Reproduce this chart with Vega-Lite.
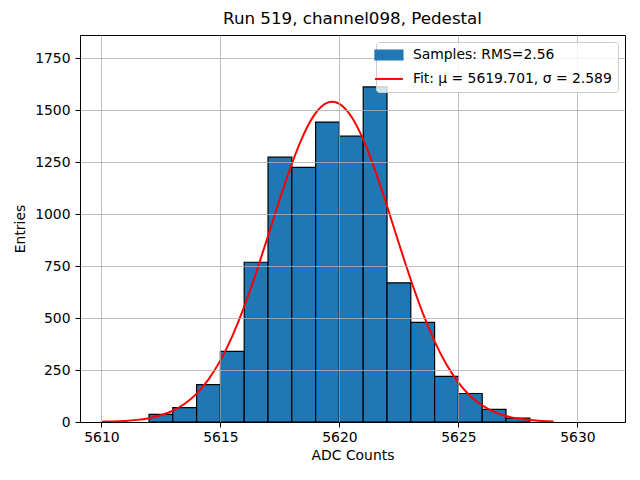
{
  "$schema": "https://vega.github.io/schema/vega-lite/v6.json",
  "autosize": {"type": "none"},
  "width": 545,
  "height": 387,
  "padding": {"left": 80, "top": 35, "right": 15, "bottom": 58},
  "title": {"text": "Run 519, channel098, Pedestal", "font": "DejaVu Sans", "fontSize": 16.7, "fontWeight": "normal", "color": "black", "offset": 7},
  "datasets": {
    "bars": [
      {"x0": 5612, "x1": 5613, "count": 37, "series": "Samples: RMS=2.56"},
      {"x0": 5613, "x1": 5614, "count": 69, "series": "Samples: RMS=2.56"},
      {"x0": 5614, "x1": 5615, "count": 180, "series": "Samples: RMS=2.56"},
      {"x0": 5615, "x1": 5616, "count": 340, "series": "Samples: RMS=2.56"},
      {"x0": 5616, "x1": 5617, "count": 768, "series": "Samples: RMS=2.56"},
      {"x0": 5617, "x1": 5618, "count": 1273, "series": "Samples: RMS=2.56"},
      {"x0": 5618, "x1": 5619, "count": 1224, "series": "Samples: RMS=2.56"},
      {"x0": 5619, "x1": 5620, "count": 1442, "series": "Samples: RMS=2.56"},
      {"x0": 5620, "x1": 5621, "count": 1374, "series": "Samples: RMS=2.56"},
      {"x0": 5621, "x1": 5622, "count": 1611, "series": "Samples: RMS=2.56"},
      {"x0": 5622, "x1": 5623, "count": 669, "series": "Samples: RMS=2.56"},
      {"x0": 5623, "x1": 5624, "count": 479, "series": "Samples: RMS=2.56"},
      {"x0": 5624, "x1": 5625, "count": 219, "series": "Samples: RMS=2.56"},
      {"x0": 5625, "x1": 5626, "count": 137, "series": "Samples: RMS=2.56"},
      {"x0": 5626, "x1": 5627, "count": 61, "series": "Samples: RMS=2.56"},
      {"x0": 5627, "x1": 5628, "count": 19, "series": "Samples: RMS=2.56"}
    ],
    "fit": [
      {"x": 5610, "y": 1.4, "series": "Fit: μ = 5619.701, σ = 2.589"},
      {"x": 5610.5, "y": 2.8, "series": "Fit: μ = 5619.701, σ = 2.589"},
      {"x": 5611, "y": 5.4, "series": "Fit: μ = 5619.701, σ = 2.589"},
      {"x": 5611.5, "y": 10.2, "series": "Fit: μ = 5619.701, σ = 2.589"},
      {"x": 5612, "y": 18.5, "series": "Fit: μ = 5619.701, σ = 2.589"},
      {"x": 5612.5, "y": 32.2, "series": "Fit: μ = 5619.701, σ = 2.589"},
      {"x": 5613, "y": 54.1, "series": "Fit: μ = 5619.701, σ = 2.589"},
      {"x": 5613.5, "y": 87.5, "series": "Fit: μ = 5619.701, σ = 2.589"},
      {"x": 5614, "y": 136.4, "series": "Fit: μ = 5619.701, σ = 2.589"},
      {"x": 5614.5, "y": 204.7, "series": "Fit: μ = 5619.701, σ = 2.589"},
      {"x": 5615, "y": 296.2, "series": "Fit: μ = 5619.701, σ = 2.589"},
      {"x": 5615.5, "y": 412.9, "series": "Fit: μ = 5619.701, σ = 2.589"},
      {"x": 5616, "y": 554.3, "series": "Fit: μ = 5619.701, σ = 2.589"},
      {"x": 5616.5, "y": 717.0, "series": "Fit: μ = 5619.701, σ = 2.589"},
      {"x": 5617, "y": 893.7, "series": "Fit: μ = 5619.701, σ = 2.589"},
      {"x": 5617.5, "y": 1073, "series": "Fit: μ = 5619.701, σ = 2.589"},
      {"x": 5618, "y": 1241, "series": "Fit: μ = 5619.701, σ = 2.589"},
      {"x": 5618.5, "y": 1383, "series": "Fit: μ = 5619.701, σ = 2.589"},
      {"x": 5619, "y": 1484.6, "series": "Fit: μ = 5619.701, σ = 2.589"},
      {"x": 5619.5, "y": 1535.4, "series": "Fit: μ = 5619.701, σ = 2.589"},
      {"x": 5620, "y": 1529.8, "series": "Fit: μ = 5619.701, σ = 2.589"},
      {"x": 5620.5, "y": 1468.4, "series": "Fit: μ = 5619.701, σ = 2.589"},
      {"x": 5621, "y": 1357.8, "series": "Fit: μ = 5619.701, σ = 2.589"},
      {"x": 5621.5, "y": 1209.7, "series": "Fit: μ = 5619.701, σ = 2.589"},
      {"x": 5622, "y": 1038.3, "series": "Fit: μ = 5619.701, σ = 2.589"},
      {"x": 5622.5, "y": 858.4, "series": "Fit: μ = 5619.701, σ = 2.589"},
      {"x": 5623, "y": 683.9, "series": "Fit: μ = 5619.701, σ = 2.589"},
      {"x": 5623.5, "y": 524.8, "series": "Fit: μ = 5619.701, σ = 2.589"},
      {"x": 5624, "y": 388, "series": "Fit: μ = 5619.701, σ = 2.589"},
      {"x": 5624.5, "y": 276.3, "series": "Fit: μ = 5619.701, σ = 2.589"},
      {"x": 5625, "y": 189.6, "series": "Fit: μ = 5619.701, σ = 2.589"},
      {"x": 5625.5, "y": 125.4, "series": "Fit: μ = 5619.701, σ = 2.589"},
      {"x": 5626, "y": 79.8, "series": "Fit: μ = 5619.701, σ = 2.589"},
      {"x": 5626.5, "y": 49, "series": "Fit: μ = 5619.701, σ = 2.589"},
      {"x": 5627, "y": 28.9, "series": "Fit: μ = 5619.701, σ = 2.589"},
      {"x": 5627.5, "y": 16.5, "series": "Fit: μ = 5619.701, σ = 2.589"},
      {"x": 5628, "y": 9.1, "series": "Fit: μ = 5619.701, σ = 2.589"},
      {"x": 5628.5, "y": 4.8, "series": "Fit: μ = 5619.701, σ = 2.589"},
      {"x": 5629, "y": 2.4, "series": "Fit: μ = 5619.701, σ = 2.589"}
    ]
  },
  "encoding": {
    "color": {"field": "series", "type": "nominal",
      "scale": {"domain": ["Samples: RMS=2.56", "Fit: μ = 5619.701, σ = 2.589"], "range": ["#1f77b4", "#ff0000"]},
      "legend": {
        "title": null,
        "orient": "top-right",
        "offset": 7,
        "padding": 6,
        "zindex": 2,
        "strokeColor": "#cccccc",
        "fillColor": "rgba(255,255,255,0.8)",
        "cornerRadius": 3,
        "labelFont": "DejaVu Sans",
        "labelFontSize": 13.9,
        "labelColor": "black",
        "labelLimit": 400,
        "labelOffset": 17,
        "rowPadding": 8,
        "symbolSize": 784,
        "encode": {
          "symbols": {
            "update": {
              "shape": {"signal": "datum.value === 'Samples: RMS=2.56' ? 'M-1,-0.35H1V0.35H-1Z' : 'M-1,0H1'"},
              "fill": {"signal": "datum.value === 'Samples: RMS=2.56' ? '#1f77b4' : 'transparent'"},
              "stroke": {"signal": "datum.value === 'Samples: RMS=2.56' ? 'black' : '#ff0000'"},
              "strokeWidth": {"signal": "datum.value === 'Samples: RMS=2.56' ? 1.2 : 2"}
            }
          }
        }
      }
    }
  },
  "layer": [
    {
      "data": {"name": "bars"},
      "mark": {"type": "bar", "stroke": "black", "strokeWidth": 1.2, "opacity": 1},
      "encoding": {
        "x": {"field": "x0", "type": "quantitative", "scale": {"domain": [5609.1, 5632.0], "nice": false, "zero": false},
              "axis": {"title": "ADC Counts", "values": [5610, 5615, 5620, 5625, 5630], "format": "d", "zindex": 1}},
        "x2": {"field": "x1"},
        "y": {"field": "count", "type": "quantitative", "scale": {"domain": [0, 1860.6], "nice": false},
              "axis": {"title": "Entries", "values": [0, 250, 500, 750, 1000, 1250, 1500, 1750], "format": "d", "zindex": 1}},
        "y2": {"datum": 0}
      }
    },
    {
      "data": {"name": "fit"},
      "mark": {"type": "line", "strokeWidth": 2, "interpolate": "natural"},
      "encoding": {
        "x": {"field": "x", "type": "quantitative"},
        "y": {"field": "y", "type": "quantitative"}
      }
    }
  ],
  "config": {
    "view": {"stroke": "black", "strokeWidth": 1},
    "font": "DejaVu Sans",
    "axis": {
      "grid": true,
      "gridColor": "#b0b0b0",
      "gridWidth": 0.8,
      "domainColor": "black",
      "domainWidth": 1,
      "tickColor": "black",
      "tickSize": 5,
      "tickWidth": 1,
      "labelColor": "black",
      "labelFont": "DejaVu Sans",
      "labelFontSize": 13.9,
      "titleFont": "DejaVu Sans",
      "titleFontSize": 13.9,
      "titleFontWeight": "normal",
      "titleColor": "black"
    },
    "axisX": {"labelPadding": 3, "titlePadding": 5},
    "axisY": {"labelPadding": 5, "titlePadding": 7}
  }
}
